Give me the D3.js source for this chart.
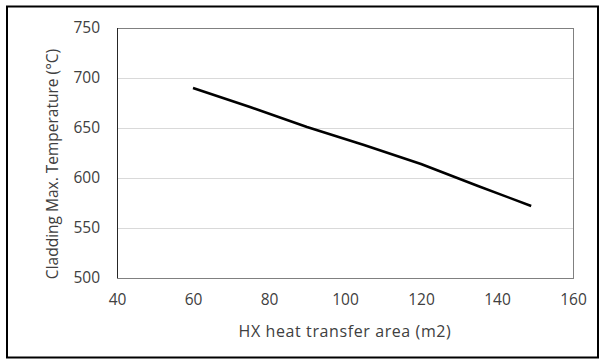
<!DOCTYPE html>
<html>
<head>
<meta charset="utf-8">
<script src="https://cdn.jsdelivr.net/npm/d3@7"></script>
<style>
  body { margin: 0; background: #fff; }
  text { font-family: "Open Sans", sans-serif; fill: #404040; }
</style>
</head>
<body>
<div class="chart"></div>
<script>
// data
const area = [60, 75, 90, 105, 120, 135, 149];
const temp = [690, 671, 651, 633, 614, 592, 572];
const xTicks = [40, 60, 80, 100, 120, 140, 160];
const yTicks = [500, 550, 600, 650, 700, 750];

const W = 605, H = 364;
const plot = { left: 117, right: 573, top: 28, bottom: 278 };

const svg = d3
  .select(".chart")
  .append("svg")
  .attr("width", W)
  .attr("height", H);

// outer frame
svg
  .append("rect")
  .attr("x", 7)
  .attr("y", 6.5)
  .attr("width", 591)
  .attr("height", 351)
  .attr("fill", "white")
  .attr("stroke", "black")
  .attr("stroke-width", 2);

const xScale = d3.scaleLinear().domain([40, 160]).range([plot.left, plot.right]);
const yScale = d3.scaleLinear().domain([500, 750]).range([plot.bottom, plot.top]);

// gridlines
svg
  .append("g")
  .selectAll("line")
  .data(yTicks.filter((d) => d > 500 && d < 750))
  .enter()
  .append("line")
  .attr("x1", plot.left)
  .attr("x2", plot.right)
  .attr("y1", (d) => Math.round(yScale(d)) + 0.5)
  .attr("y2", (d) => Math.round(yScale(d)) + 0.5)
  .attr("stroke", "#d9d9d9");

// plot area border
svg
  .append("rect")
  .attr("x", plot.left + 0.5)
  .attr("y", plot.top + 0.5)
  .attr("width", plot.right - plot.left)
  .attr("height", plot.bottom - plot.top)
  .attr("fill", "none")
  .attr("stroke", "#808080");

svg
  .append("line")
  .attr("x1", plot.left + 0.5)
  .attr("x2", plot.left + 0.5)
  .attr("y1", plot.top)
  .attr("y2", plot.bottom)
  .attr("stroke", "#262626");

const fs = 15.5;

// axes (labels only)
const xAxis = d3.axisBottom(xScale).tickValues(xTicks).tickSize(0).tickPadding(16);
const xAxisG = svg
  .append("g")
  .attr("transform", `translate(0, ${plot.bottom})`)
  .call(xAxis);
xAxisG.select(".domain").remove();
xAxisG.selectAll("text").attr("font-size", fs).attr("font-family", "Open Sans").attr("fill", "#404040");

const yAxis = d3.axisLeft(yScale).tickValues(yTicks).tickSize(0).tickPadding(17);
const yAxisG = svg
  .append("g")
  .attr("transform", `translate(${plot.left}, 0)`)
  .call(yAxis);
yAxisG.select(".domain").remove();
yAxisG.selectAll("text").attr("font-size", fs).attr("font-family", "Open Sans").attr("fill", "#404040");

// axis titles
svg
  .append("text")
  .attr("x", 345)
  .attr("y", 337)
  .attr("text-anchor", "middle")
  .attr("font-size", 16)
  .attr("letter-spacing", 0.6)
  .text("HX heat transfer area (m2)");

svg
  .append("text")
  .attr("transform", `translate(59, 164) rotate(-90)`)
  .attr("text-anchor", "middle")
  .attr("font-size", fs)
  .attr("dy", "0.35em")
  .attr("dx", 0)
  .text("Cladding Max. Temperature (°C)")
  .attr("transform", `translate(53, 164) rotate(-90)`);

// the line
const line = d3
  .line()
  .x((d, i) => xScale(area[i]))
  .y((d) => yScale(d));

svg
  .append("path")
  .datum(temp)
  .attr("d", line)
  .attr("fill", "none")
  .attr("stroke", "black")
  .attr("stroke-width", 2.5)
  .attr("stroke-linejoin", "round");
</script>
</body>
</html>
